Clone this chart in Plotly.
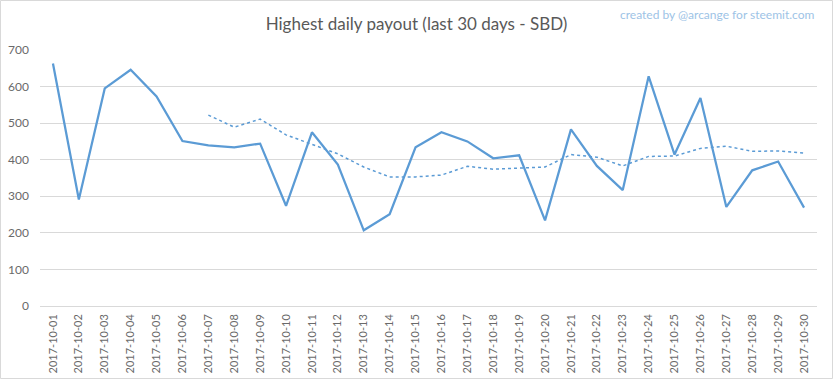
import plotly.graph_objects as go

dates = ["2017-10-%02d" % d for d in range(1, 31)]
payout = [663, 291, 595, 646, 573, 451, 439, 434, 444, 274,
          475, 387, 207, 251, 434, 475, 450, 404, 412, 234,
          483, 383, 317, 628, 414, 569, 271, 371, 395, 269]
trend_dates = dates[6:]
trend = [522, 489, 511, 468, 442, 416, 380, 353, 353, 358,
         382, 374, 377, 380, 414, 407, 383, 409, 410, 431,
         437, 423, 424, 418]

BLUE = "#5B9BD5"
FONT = "Lato, 'Liberation Sans', sans-serif"
TXT = "#6A6A6A"

fig = go.Figure()
fig.add_trace(go.Scatter(x=dates, y=payout, mode="lines",
                         line=dict(color=BLUE, width=2.25), showlegend=False))
fig.add_trace(go.Scatter(x=trend_dates, y=trend, mode="lines",
                         line=dict(color=BLUE, width=1.5, dash="dot"), showlegend=False))

fig.update_layout(
    width=833, height=379,
    margin=dict(l=40, r=16, t=50, b=73, autoexpand=False),
    paper_bgcolor="white", plot_bgcolor="white",
    font=dict(family=FONT, color=TXT, size=12),
    title=dict(text="Highest daily payout (last 30 days - SBD)",
               x=0.5, xref="container", xanchor="center",
               y=1 - 24 / 379, yref="container", yanchor="middle",
               font=dict(family=FONT, size=17, color="#595959")),
    xaxis=dict(type="category", range=[-0.5, 29.5], tickangle=-90,
               showgrid=False, showline=False, zeroline=False, automargin=False,
               tickfont=dict(size=11, color=TXT),
               ticks="", ticklabelstandoff=5),
    yaxis=dict(range=[0, 700], dtick=100, showgrid=True, gridcolor="#D9D9D9",
               gridwidth=1, zeroline=True, zerolinecolor="#D9D9D9", zerolinewidth=1,
               showline=False, ticks="", automargin=False,
               tickfont=dict(size=12, color=TXT),
               ticklabelstandoff=10),
    annotations=[dict(text="created by @arcange for steemit.com",
                      xref="paper", yref="paper", x=1.0, y=1 + 36 / 256,
                      xanchor="right", yanchor="middle", showarrow=False,
                      font=dict(family=FONT, size=12, color="#9DC3E6"))],
    shapes=[dict(type="rect", xref="paper", yref="paper",
                 x0=-39.5 / 777, x1=1 + 15.5 / 777, y0=-72.5 / 256, y1=1 + 49.5 / 256,
                 line=dict(color="#D9D9D9", width=1))],
)

fig.write_html("out.html", config={"displayModeBar": False},
               post_script="document.body.style.margin='0';document.body.style.padding='0';")
